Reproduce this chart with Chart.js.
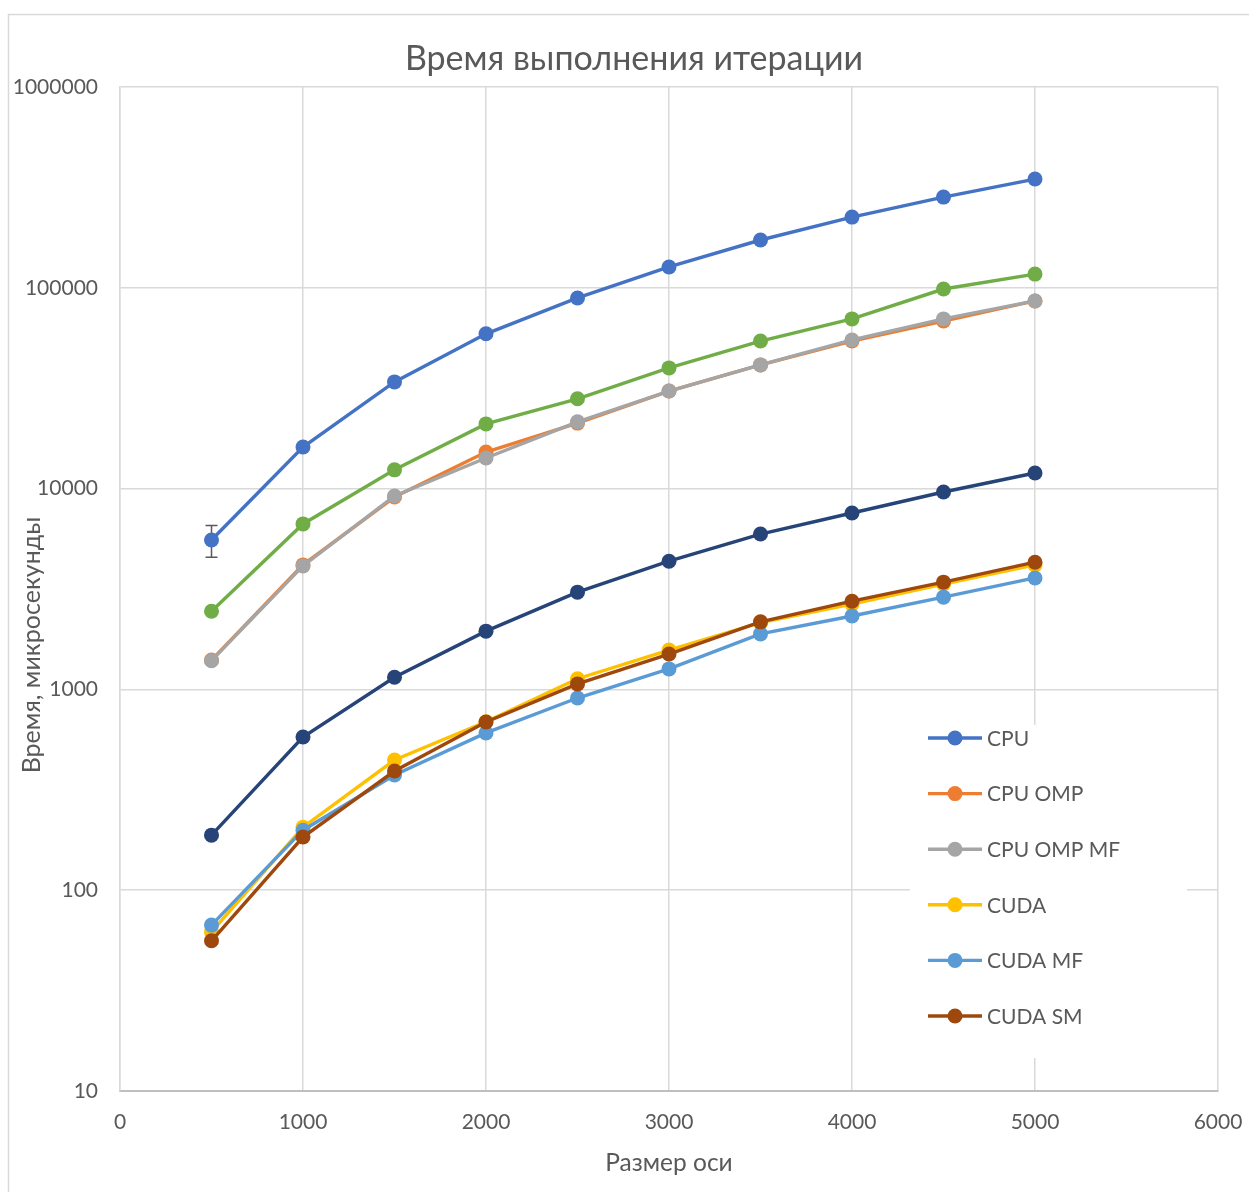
<!DOCTYPE html>
<html lang="ru">
<head>
<meta charset="utf-8">
<title>Время выполнения итерации</title>
<script src="https://cdn.jsdelivr.net/npm/chart.js@4/dist/chart.umd.min.js"></script>
<style>
  html, body { margin: 0; padding: 0; background: #ffffff; }
  canvas { display: block; }
</style>
</head>
<body>
<canvas id="chart" width="1249" height="1192"></canvas>
<script>
// Axis size (grid dimension) for each measurement
const sizes = [500, 1000, 1500, 2000, 2500, 3000, 3500, 4000, 4500, 5000];

// Iteration time, microseconds
const cpu       = [5550, 16100, 34000, 59000, 89000, 127000, 173000, 225000, 283000, 348000];
const cpuOmp    = [1400, 4170, 9080, 15200, 21200, 30600, 41300, 54300, 68300, 86000];
const cpuOmpMf  = [1390, 4120, 9190, 14200, 21500, 30600, 41300, 55000, 70000, 86000];
const cuda      = [62, 206, 445, 690, 1130, 1570, 2150, 2660, 3350, 4170];
const cudaMf    = [67, 199, 375, 607, 906, 1265, 1890, 2320, 2880, 3590];
const cudaSm    = [56, 184, 392, 688, 1065, 1500, 2170, 2750, 3420, 4300];
const series7   = [2450, 6670, 12400, 21000, 28000, 39900, 54300, 70000, 98600, 117000];
const series8   = [188, 579, 1150, 1950, 3050, 4350, 5940, 7560, 9620, 11960];

// Error bar on the first CPU measurement
const cpuErrLow  = [4550];
const cpuErrHigh = [6550];

// Tick labels
const yTicks = [10, 100, 1000, 10000, 100000, 1000000];
const xTicks = [0, 1000, 2000, 3000, 4000, 5000, 6000];

const FONT = 'Lato, "Open Sans", "Noto Sans", sans-serif';
const TEXT = '#595959';
const GRID = '#D9D9D9';

function pts(values) {
  return values.map((v, i) => ({ x: sizes[i], y: v }));
}

function series(label, values, color, order, inLegend) {
  return {
    label: label,
    data: pts(values),
    borderColor: color,
    backgroundColor: color,
    pointBackgroundColor: color,
    pointBorderColor: color,
    pointRadius: 7.5,
    pointHoverRadius: 7.5,
    pointBorderWidth: 0,
    borderWidth: 3.4,
    tension: 0,
    order: order,
    inLegend: inLegend
  };
}

// later entries are painted on top
const datasets = [
  series('CPU', cpu, '#4472C4', 8, true),
  series('CPU OMP', cpuOmp, '#ED7D31', 7, true),
  series('CPU OMP MF', cpuOmpMf, '#A5A5A5', 6, true),
  series('CUDA', cuda, '#FFC000', 5, true),
  series('CUDA MF', cudaMf, '#5B9BD5', 4, true),
  series('CUDA SM', cudaSm, '#9E480E', 3, true),
  series('Ряд 7', series7, '#70AD47', 2, false),
  series('Ряд 8', series8, '#264478', 1, false)
];

// Frame, title and axis titles
const decorations = {
  id: 'decorations',
  beforeDraw(chart) {
    const ctx = chart.ctx;
    ctx.save();
    ctx.fillStyle = '#ffffff';
    ctx.fillRect(0, 0, chart.width, chart.height);
    ctx.strokeStyle = GRID;
    ctx.lineWidth = 1.5;
    ctx.strokeRect(8.5, 14.5, chart.width + 20, chart.height + 20);
    ctx.restore();
  },
  afterDraw(chart) {
    const ctx = chart.ctx;
    const area = chart.chartArea;
    ctx.save();
    ctx.fillStyle = TEXT;
    ctx.textAlign = 'center';
    ctx.textBaseline = 'middle';
    ctx.font = '34px ' + FONT;
    ctx.fillText('Время выполнения итерации', 634, 59);
    ctx.font = '24.5px ' + FONT;
    ctx.fillText('Размер оси', (area.left + area.right) / 2, 1163);
    ctx.font = '25px ' + FONT;
    ctx.translate(32, 645);
    ctx.rotate(-Math.PI / 2);
    ctx.fillText('Время, микросекунды', 0, 0);
    ctx.restore();
  }
};

// Legend panel inside the plot area and the CPU error bar
const legendPanel = {
  id: 'legendPanel',
  beforeDatasetsDraw(chart) {
    const ctx = chart.ctx;
    const xs = chart.scales.x, ys = chart.scales.y;
    ctx.save();
    // white panel under the legend entries
    ctx.fillStyle = '#ffffff';
    ctx.fillRect(910, 725, 277, 333);

    const items = chart.data.datasets.filter(d => d.inLegend);
    ctx.font = '21px ' + FONT;
    ctx.textAlign = 'left';
    ctx.textBaseline = 'middle';
    items.forEach((d, i) => {
      const y = 738 + i * 55.6;
      ctx.strokeStyle = d.borderColor;
      ctx.lineWidth = 3.4;
      ctx.beginPath();
      ctx.moveTo(928, y);
      ctx.lineTo(982, y);
      ctx.stroke();
      ctx.fillStyle = d.borderColor;
      ctx.beginPath();
      ctx.arc(955, y, 7.5, 0, Math.PI * 2);
      ctx.fill();
      ctx.fillStyle = TEXT;
      ctx.fillText(d.label, 987, y + 1);
    });

    // error bar
    ctx.strokeStyle = '#595959';
    ctx.lineWidth = 1.5;
    cpuErrLow.forEach((lo, i) => {
      const px = xs.getPixelForValue(sizes[i]);
      const top = ys.getPixelForValue(cpuErrHigh[i]);
      const bot = ys.getPixelForValue(lo);
      ctx.beginPath();
      ctx.moveTo(px, top); ctx.lineTo(px, bot);
      ctx.moveTo(px - 6, top); ctx.lineTo(px + 6, top);
      ctx.moveTo(px - 6, bot); ctx.lineTo(px + 6, bot);
      ctx.stroke();
    });
    ctx.restore();
  }
};

new Chart(document.getElementById('chart'), {
  type: 'line',
  data: { datasets: datasets },
  options: {
    responsive: false,
    animation: false,
    events: [],
    layout: { padding: { left: 0, top: 87, right: 31, bottom: 0 } },
    plugins: {
      legend: { display: false },
      title: { display: false },
      tooltip: { enabled: false }
    },
    scales: {
      x: {
        type: 'linear',
        min: 0,
        max: 6000,
        afterFit(scale) {
          scale.height = 101;
          scale.paddingLeft = 0;
          scale.paddingRight = 0;
        },
        afterBuildTicks(scale) { scale.ticks = xTicks.map(v => ({ value: v })); },
        ticks: {
          color: TEXT,
          font: { family: FONT, size: 21 },
          padding: 19,
          maxRotation: 0,
          callback: v => String(v)
        },
        grid: { color: GRID, lineWidth: 1.5, drawTicks: false },
        border: { color: '#BFBFBF', width: 2 }
      },
      y: {
        type: 'logarithmic',
        min: 10,
        max: 1000000,
        afterFit(scale) {
          scale.width = 120;
          scale.paddingTop = 0;
          scale.paddingBottom = 0;
        },
        afterBuildTicks(scale) { scale.ticks = yTicks.map(v => ({ value: v })); },
        ticks: {
          color: TEXT,
          font: { family: FONT, size: 21 },
          padding: 22,
          callback: v => String(v)
        },
        grid: { color: GRID, lineWidth: 1.5, drawTicks: false },
        border: { color: GRID, width: 1.5 }
      }
    }
  },
  plugins: [decorations, legendPanel]
});
</script>
</body>
</html>
